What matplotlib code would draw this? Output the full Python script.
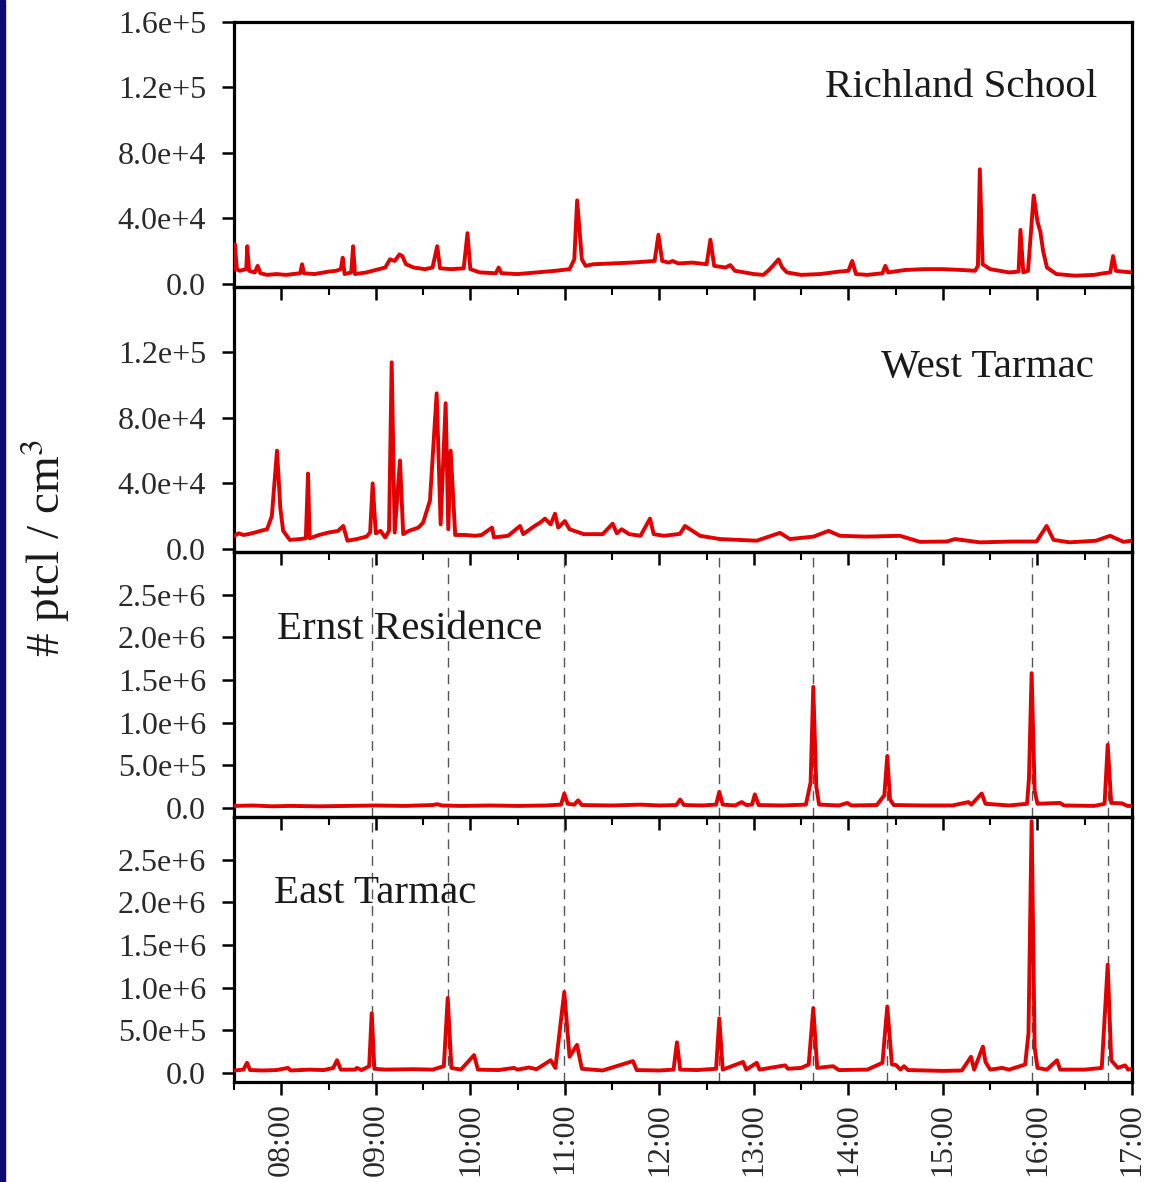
import matplotlib
matplotlib.use('Agg')
import matplotlib.pyplot as plt
from matplotlib.ticker import MultipleLocator, FixedLocator, FuncFormatter
from matplotlib.patches import Rectangle

plt.rcParams['font.family'] = ['Liberation Serif', 'DejaVu Serif']
plt.rcParams['mathtext.fontset'] = 'stix'

# time in decimal hours, concentration in particles / cm3
rich_t = [7.50, 7.51, 7.53, 7.56, 7.63, 7.64, 7.66, 7.72, 7.75, 7.78, 7.85, 7.95, 8.05, 8.20, 8.22, 8.24,
          8.35, 8.50, 8.58, 8.63, 8.65, 8.67, 8.74, 8.76, 8.78, 8.90, 9.00, 9.10, 9.15, 9.20, 9.25, 9.28,
          9.32, 9.40, 9.52, 9.60, 9.65, 9.68, 9.80, 9.93, 9.97, 10.00, 10.10, 10.27, 10.30, 10.33, 10.50,
          10.70, 10.90, 11.05, 11.10, 11.13, 11.18, 11.22, 11.30, 11.50, 11.70, 11.95, 11.99, 12.03, 12.10,
          12.14, 12.20, 12.35, 12.50, 12.54, 12.58, 12.70, 12.75, 12.80, 12.90, 13.00, 13.10, 13.15, 13.20,
          13.26, 13.30, 13.35, 13.50, 13.70, 13.90, 14.00, 14.04, 14.08, 14.20, 14.36, 14.39, 14.42, 14.60,
          14.80, 15.00, 15.20, 15.34, 15.37, 15.39, 15.42, 15.50, 15.70, 15.80, 15.82, 15.85, 15.90, 15.96,
          16.00, 16.03, 16.06, 16.10, 16.20, 16.40, 16.60, 16.70, 16.77, 16.80, 16.83, 16.90, 17.00]
rich_v = [9000, 24000, 9000, 8000, 9000, 23000, 8000, 7000, 11000, 6500, 5500, 6000, 5500, 6500, 12000, 6500,
          6000, 7500, 8000, 9000, 16000, 6000, 7000, 23000, 6000, 7000, 8500, 10000, 15000, 14000, 18000, 17000,
          12000, 10000, 9000, 10000, 23000, 9500, 9000, 9500, 31000, 9000, 7000, 6500, 10000, 6500, 6000,
          7000, 8000, 9000, 15000, 51000, 15000, 11000, 12000, 12500, 13000, 14000, 30000, 14000, 13000,
          14000, 12500, 13000, 12000, 27000, 11000, 10000, 11500, 8000, 7000, 6000, 5500, 8000, 11000,
          15000, 10000, 7000, 5500, 6000, 7500, 8000, 14000, 6000, 5500, 6500, 11000, 7000, 8500,
          9000, 9000, 8500, 8000, 11000, 70000, 12000, 9000, 7000, 7500, 33000, 7000, 8000, 54000,
          38000, 32000, 20000, 10000, 6000, 5000, 5500, 6500, 7000, 17000, 8000, 7500, 7000]

west_t = [7.50, 7.55, 7.60, 7.65, 7.72, 7.78, 7.85, 7.90, 7.955, 7.99, 8.02, 8.09, 8.20, 8.26, 8.283, 8.30,
          8.40, 8.50, 8.60, 8.656, 8.70, 8.80, 8.90, 8.94, 8.967, 9.00, 9.05, 9.10, 9.14, 9.168, 9.20, 9.256,
          9.29, 9.35, 9.45, 9.50, 9.573, 9.644, 9.686, 9.739, 9.767, 9.792, 9.84, 9.95, 10.05, 10.12, 10.229,
          10.25, 10.40, 10.526, 10.56, 10.68, 10.737, 10.79, 10.85, 10.896, 10.93, 11.00, 11.05, 11.20, 11.40,
          11.506, 11.55, 11.601, 11.68, 11.80, 11.901, 11.94, 12.05, 12.218, 12.271, 12.43, 12.64, 13.03,
          13.276, 13.38, 13.63, 13.79, 13.91, 14.19, 14.545, 14.757, 15.04, 15.127, 15.39, 15.744, 15.99,
          16.097, 16.17, 16.34, 16.62, 16.767, 16.91, 17.00]
west_v = [8000, 9500, 8500, 9000, 10000, 11000, 12000, 20000, 60000, 25000, 11000, 5500, 6000, 6500, 46000, 6500,
          8500, 10000, 11000, 14000, 5000, 6000, 7500, 10000, 40000, 9500, 11000, 7000, 11000, 114000, 10000, 54000,
          9000, 11000, 13000, 16000, 29500, 95000, 15000, 89000, 12000, 60000, 8500, 8500, 8000, 8500, 13000,
          7000, 8000, 14000, 9000, 14000, 16000, 18500, 15000, 21500, 13000, 17000, 12000, 9000, 9000,
          15400, 9500, 12000, 9000, 8000, 18500, 9000, 8000, 9200, 14000, 8000, 6000, 5000,
          9800, 6000, 7500, 11000, 8000, 7500, 8000, 4300, 4500, 6000, 4000, 4500, 4500,
          14000, 5500, 4000, 5000, 8000, 4300, 5000]

ernst_t = [7.50, 7.70, 7.90, 8.10, 8.40, 8.70, 9.00, 9.30, 9.60, 9.65, 9.70, 9.90, 10.20, 10.50, 10.80, 10.96,
           10.994, 11.03, 11.10, 11.14, 11.18, 11.50, 11.80, 12.00, 12.18, 12.22, 12.26, 12.45, 12.60, 12.634,
           12.67, 12.80, 12.87, 12.92, 12.98, 13.01, 13.05, 13.30, 13.55, 13.60, 13.628, 13.66, 13.69, 13.90,
           13.99, 14.03, 14.30, 14.38, 14.411, 14.44, 14.48, 14.80, 15.10, 15.27, 15.30, 15.41, 15.45, 15.70,
           15.89, 15.91, 15.938, 15.97, 16.00, 16.238, 16.28, 16.60, 16.71, 16.743, 16.78, 16.894, 16.95, 17.00]
ernst_v = [25000, 30000, 20000, 25000, 20000, 25000, 30000, 25000, 35000, 45000, 30000, 25000, 30000, 25000, 30000, 40000,
           170000, 50000, 40000, 90000, 35000, 30000, 40000, 30000, 35000, 100000, 35000, 30000, 40000, 190000,
           40000, 30000, 70000, 35000, 40000, 160000, 35000, 30000, 40000, 300000, 1420000, 250000, 40000, 30000,
           60000, 30000, 35000, 150000, 610000, 100000, 35000, 30000, 30000, 70000, 40000, 170000, 50000, 30000,
           50000, 350000, 1580000, 200000, 50000, 60000, 30000, 25000, 50000, 740000, 60000, 55000, 25000, 25000]

east_t = [7.50, 7.60, 7.638, 7.67, 7.80, 7.95, 8.07, 8.10, 8.30, 8.45, 8.55, 8.59, 8.63, 8.78, 8.80, 8.85,
          8.93, 8.957, 8.985, 9.10, 9.40, 9.60, 9.72, 9.761, 9.80, 9.90, 10.04, 10.08, 10.30, 10.46, 10.50,
          10.62, 10.70, 10.78, 10.85, 10.90, 10.994, 11.05, 11.128, 11.18, 11.40, 11.72, 11.76, 12.00, 12.15,
          12.186, 12.22, 12.40, 12.60, 12.634, 12.67, 12.885, 12.92, 13.03, 13.06, 13.33, 13.36, 13.50, 13.58,
          13.628, 13.67, 13.837, 13.90, 14.20, 14.36, 14.411, 14.46, 14.503, 14.55, 14.588, 14.63, 15.00,
          15.20, 15.296, 15.33, 15.423, 15.45, 15.50, 15.624, 15.70, 15.87, 15.905, 15.938, 15.97, 16.00,
          16.10, 16.206, 16.24, 16.50, 16.68, 16.743, 16.78, 16.85, 16.926, 16.96, 17.00]
east_v = [30000, 40000, 120000, 35000, 30000, 35000, 60000, 30000, 40000, 35000, 60000, 150000, 40000, 40000, 60000, 35000,
          80000, 700000, 50000, 40000, 45000, 40000, 80000, 880000, 60000, 40000, 210000, 40000, 35000, 60000, 40000,
          65000, 45000, 100000, 150000, 60000, 950000, 190000, 330000, 50000, 30000, 140000, 35000, 30000, 40000,
          360000, 40000, 35000, 50000, 640000, 40000, 130000, 40000, 120000, 40000, 90000, 50000, 60000, 100000,
          760000, 60000, 80000, 35000, 40000, 120000, 780000, 100000, 94000, 40000, 80000, 35000, 25000,
          30000, 190000, 40000, 310000, 130000, 40000, 60000, 40000, 100000, 470000, 2950000, 300000, 60000,
          40000, 150000, 40000, 40000, 60000, 1270000, 150000, 60000, 90000, 40000, 50000]

event_times = [8.957, 9.761, 10.994, 12.634, 13.628, 14.411, 15.938, 16.743]

names = ['Richland School', 'West Tarmac', 'Ernst Residence', 'East Tarmac']
series = [(rich_t, rich_v), (west_t, west_v), (ernst_t, ernst_v), (east_t, east_v)]
yticks = [[0, 4e4, 8e4, 1.2e5, 1.6e5], [0, 4e4, 8e4, 1.2e5],
          [0, 5e5, 1e6, 1.5e6, 2e6, 2.5e6], [0, 5e5, 1e6, 1.5e6, 2e6, 2.5e6]]
ylims = [(-1900, 1.6e5), (-1900, 1.6e5), (-1.05e5, 3.0e6), (-1.05e5, 3.0e6)]
label_pos = [(0.961, 0.754, 'right'), (0.957, 0.697, 'right'), (0.048, 0.708, 'left'), (0.045, 0.712, 'left')]


def sci(v, pos):
	if v == 0:
		return '0.0'
	m, e = ('%.1e' % v).split('e')
	return '%se+%d' % (m, int(e))


W, H = 1154, 1182
fig = plt.figure(figsize=(W / 100, H / 100), dpi=100)
fig.patches.append(Rectangle((0, 0), 5 / W, 1, transform=fig.transFigure, color='#0b0b72', zorder=0))

left, width = 234 / W, 898 / W
top0, ph = 22, 265
axes = []
for i in range(4):
	ax = fig.add_axes([left, 1 - (top0 + ph * (i + 1)) / H, width, ph / H])
	ax.set_facecolor('none')
	axes.append(ax)

for i, ax in enumerate(axes):
	t, v = series[i]
	if i >= 2:
		for et in event_times:
			ax.axvline(et, color='#555555', lw=1.0, ls=(0, (7, 5)), zorder=1)
	ax.plot(t, v, color='#e30000', lw=2.8, zorder=3)
	ax.set_xlim(7.5, 17.0)
	ax.set_ylim(*ylims[i])
	ax.yaxis.set_major_locator(FixedLocator(yticks[i]))
	ax.yaxis.set_major_formatter(FuncFormatter(sci))
	ax.xaxis.set_major_locator(MultipleLocator(1))
	ax.xaxis.set_minor_locator(MultipleLocator(0.5))
	ax.xaxis.set_major_formatter(FuncFormatter(lambda h, p: '%02d:00' % int(round(h))))
	ax.tick_params(axis='both', which='major', direction='out', length=9, width=1.8,
	               labelsize=23, labelcolor='#2a2a2a', pad=6)
	ax.tick_params(axis='x', which='minor', direction='out', length=6, width=1.5)
	ax.tick_params(axis='y', pad=11)
	ax.tick_params(top=False, right=False)
	for s in ax.spines.values():
		s.set_linewidth(2.3)
	if i < 3:
		ax.tick_params(axis='x', labelbottom=False)
	else:
		for lab in ax.get_xticklabels():
			lab.set_rotation(90)
	x, y, ha = label_pos[i]
	ax.text(x, y, names[i], transform=ax.transAxes, ha=ha, va='center', fontsize=29.5, color='#1a1a1a')

fig.text(45 / W, 1 - 548 / H, '# ptcl / cm$^3$', rotation=90, ha='center', va='center',
         fontsize=34, color='#1a1a1a')

fig.savefig('out.png', dpi=100)
